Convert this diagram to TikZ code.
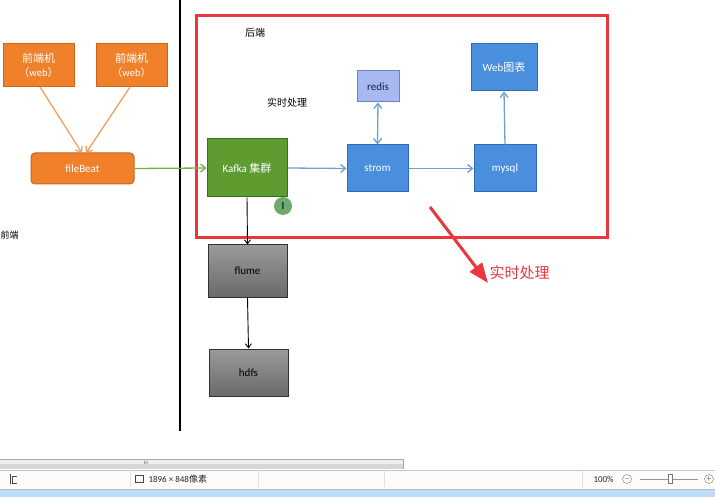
\documentclass[tikz,border=0pt]{standalone}
\usepackage{fontspec}
\setmainfont{Carlito}
\newfontfamily\cjk{Noto Sans CJK SC}
\usetikzlibrary{arrows.meta}
\definecolor{orfill}{HTML}{F0812A}
\definecolor{ordraw}{HTML}{C9651C}
\definecolor{orarrow}{HTML}{F3A05C}
\definecolor{kfill}{HTML}{5F9C30}
\definecolor{kdraw}{HTML}{3E6B1C}
\definecolor{bfill}{HTML}{4A8FDD}
\definecolor{bdraw}{HTML}{2F6CB3}
\definecolor{rfill}{HTML}{A8B8F0}
\definecolor{rdraw}{HTML}{6C82CA}
\definecolor{rtext}{HTML}{141E50}
\definecolor{garr}{HTML}{72B047}
\definecolor{barr}{HTML}{6EA2D6}
\definecolor{redbox}{HTML}{E8383D}
\definecolor{grayA}{HTML}{9A9A9A}
\definecolor{grayB}{HTML}{6A6A6A}
\definecolor{gdraw}{HTML}{323232}
\definecolor{curfill}{HTML}{6EAA6E}
\definecolor{sbA}{HTML}{EEEEEE}
\definecolor{sbB}{HTML}{D7D7D7}
\definecolor{sbLine}{HTML}{AAAAAA}
\definecolor{sbText}{HTML}{5A5A5A}
\definecolor{stBg}{HTML}{FDFCF8}
\definecolor{stLine}{HTML}{C8C8C8}
\definecolor{stSep}{HTML}{E1E1E1}
\definecolor{stText}{HTML}{282828}
\definecolor{stIcon}{HTML}{464646}
\definecolor{stCirc}{HTML}{787878}
\definecolor{stSlide}{HTML}{969696}
\definecolor{blueBar}{HTML}{BEDCF5}
\definecolor{blueLine}{HTML}{A0BEDC}
\tikzset{
  orbox/.style={draw=ordraw,fill=orfill,line width=1pt,text=white,align=center,inner sep=0pt},
  kbox/.style={draw=kdraw,fill=kfill,line width=1pt,text=white,inner sep=0pt},
  bbox/.style={draw=bdraw,fill=bfill,line width=1pt,text=white,inner sep=0pt},
  rbox/.style={draw=rdraw,fill=rfill,line width=1pt,text=rtext,inner sep=0pt},
  gbox/.style={draw=gdraw,top color=grayA,bottom color=grayB,line width=1pt,text=black,inner sep=0pt},
  orarr/.style={draw=orarrow,line width=1.3pt,-{Straight Barb[length=5pt,width=8pt]}},
  blarr/.style={draw=barr,line width=1.3pt,-{Straight Barb[length=5pt,width=8pt]}},
  bkarr/.style={draw=black,line width=0.9pt,-{Straight Barb[length=4pt,width=6pt]}},
  lbl/.style={font=\fontsize{11}{13}\selectfont},
  sttext/.style={anchor=west,font=\fontsize{9}{10}\selectfont,text=stText},
  stcirc/.style={circle,draw=stCirc,minimum size=9pt,inner sep=0pt,font=\fontsize{6}{6}\selectfont},
}
\begin{document}
\begin{tikzpicture}[x=1pt,y=-1pt]
\useasboundingbox (0,0) rectangle (715,497);
\fill[white] (0,0) rectangle (715,497);

% vertical divider
\draw[black,line width=2pt] (180,0) -- (180,431);

% front-end
\node[orbox,minimum width=71pt,minimum height=43pt] (fe1) at (38.5,65)
  {{\cjk\fontsize{11}{13}\selectfont 前端机}\\[2pt]{\fontsize{10.5}{12}\selectfont{\cjk （}web{\cjk ）}}};
\node[orbox,minimum width=71pt,minimum height=43pt] (fe2) at (131.5,65)
  {{\cjk\fontsize{11}{13}\selectfont 前端机}\\[2pt]{\fontsize{10.5}{12}\selectfont{\cjk （}web{\cjk ）}}};
\node[orbox,rounded corners=4pt,minimum width=103pt,minimum height=31pt,lbl] (fb) at (82.5,168.5) {fileBeat};
\coordinate (fbin1) at (82,153);
\coordinate (fbin2) at (86,153);
\draw[orarr] (40,87) -- (fbin1);
\draw[orarr] (130,87) -- (fbin2);

\node[font=\cjk\fontsize{9}{11}\selectfont,anchor=west] (qd) at (-3,235) {前端};

% red frame
\draw[redbox,line width=3pt] (196,16) rectangle (607,238);
\node[font=\cjk\fontsize{10}{12}\selectfont] (hd) at (255,33) {后端};
\node[font=\cjk\fontsize{10}{12}\selectfont] (ss) at (287,103) {实时处理};

% back-end
\node[kbox,minimum width=80pt,minimum height=58pt,lbl] (kafka) at (247,168) {Kafka {\cjk 集群}};
\node[bbox,minimum width=61pt,minimum height=47pt,lbl] (strom) at (377.5,168.5) {strom};
\node[bbox,minimum width=62pt,minimum height=47pt,lbl] (mysql) at (505,168.5) {mysql};
\node[rbox,minimum width=42pt,minimum height=31pt,lbl] (redis) at (378,86.5) {redis};
\node[bbox,minimum width=66pt,minimum height=47pt,lbl] (web) at (504,67.5) {Web{\cjk 图表}};
\node[gbox,minimum width=79pt,minimum height=52pt,lbl] (flume) at (247.5,271) {flume};
\node[gbox,minimum width=79pt,minimum height=47pt,lbl] (hdfs) at (248.5,372.5) {hdfs};

\draw[garr,line width=1.3pt,-{Straight Barb[length=5pt,width=8pt]}] (fb.east) -- (kafka.west);
\draw[blarr] (kafka.east) -- (strom.west);
\draw[blarr] (strom.east) -- (mysql.west);
\draw[blarr] (mysql.north) -- (web.south);
\draw[draw=barr,line width=1.3pt,{Straight Barb[length=5pt,width=8pt]}-{Straight Barb[length=5pt,width=8pt]}] (redis.south) -- (strom.north);
\draw[bkarr] (kafka.south) -- (flume.north);
\draw[bkarr] (flume.south) -- (hdfs.north);

% cursor marker
\node[circle,fill=curfill,minimum size=18pt,inner sep=0pt,font=\fontsize{11}{12}\selectfont] (cur) at (283,206) {I};

% big red arrow + label
\coordinate (ra) at (430,207);
\coordinate (rb) at (488,283);
\draw[redbox,line width=3pt,-{Triangle[length=20pt,width=15pt]}] (ra) -- (rb);
\node[anchor=west,text=redbox,font=\cjk\fontsize{15}{18}\selectfont] (sslbl) at (486,273) {实时处理};

% ---- window status bar ----
\fill[sbA] (0,459) rectangle (403,469);
\fill[sbB] (0,464) rectangle (403,469);
\draw[sbLine,line width=0.6pt] (0,459) -- (403,459) -- (403,469);
\node[font=\fontsize{5}{6}\selectfont,text=sbText] (thumb) at (146,463) {III};
\fill[stBg] (0,470) rectangle (715,488);
\draw[stLine,line width=0.5pt] (0,470) -- (715,470);
\foreach \xx in {130,258,384,582} \draw[stSep,line width=0.5pt] (\xx,471) -- (\xx,487);
\draw[stIcon,line width=0.6pt] (10,474) -- (10,484) (12,476) -- (12,483) -- (17,483) (12,476) -- (17,476);
\node[draw=stIcon,line width=0.6pt,minimum width=8pt,minimum height=7pt,inner sep=0pt] (icon2) at (139,479) {};
\node[sttext] (dims) at (145,479) {1896 × 848{\cjk 像素}};
\node[sttext] (pct) at (590,479) {100\%};
\node[stcirc] (minus) at (627,479) {$-$};
\draw[stSlide,line width=0.6pt] (640,479) -- (698,479);
\node[draw=stCirc,fill=white,minimum width=4pt,minimum height=9pt,inner sep=0pt] (slid) at (670,479) {};
\node[stcirc] (plus) at (709,479) {$+$};
\fill[blueBar] (0,489) rectangle (715,497);
\draw[blueLine,line width=0.5pt] (0,489) -- (715,489);
\end{tikzpicture}
\end{document}
